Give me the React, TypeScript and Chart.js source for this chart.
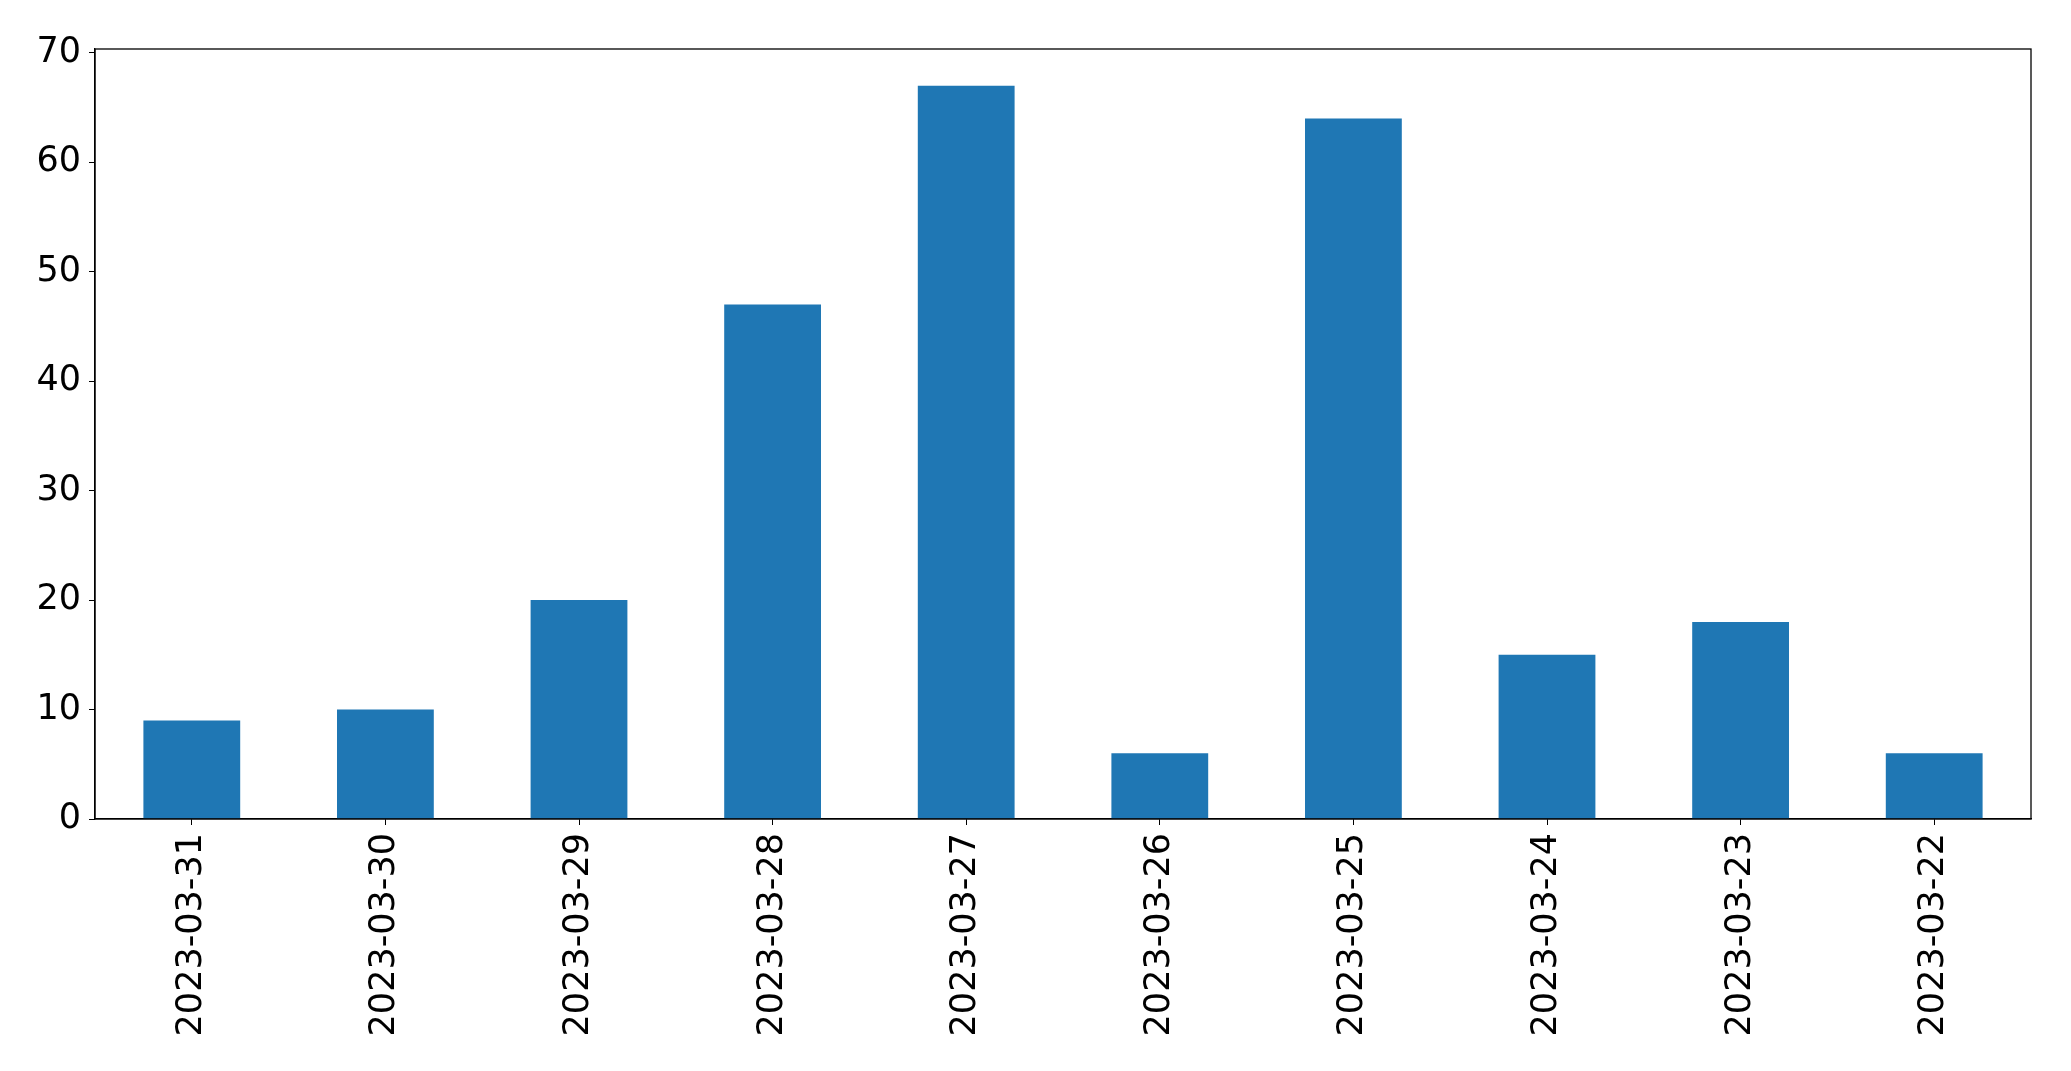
import React, { useEffect, useRef } from "react";
import { Chart, registerables } from "chart.js";

Chart.register(...registerables);

const categories = [
  "2023-03-31",
  "2023-03-30",
  "2023-03-29",
  "2023-03-28",
  "2023-03-27",
  "2023-03-26",
  "2023-03-25",
  "2023-03-24",
  "2023-03-23",
  "2023-03-22",
];
const counts = [9, 10, 20, 47, 67, 6, 64, 15, 18, 6];
const yTicks = [0, 10, 20, 30, 40, 50, 60, 70];
const yMax = 70.35;

const FONT = "'DejaVu Sans', sans-serif";

const frame = {
  id: "frame",
  afterDraw(chart: any) {
    const { ctx, chartArea } = chart;
    ctx.save();
    ctx.strokeStyle = "#000";
    ctx.lineWidth = 1.3;
    ctx.strokeRect(chartArea.left, chartArea.top, chartArea.right - chartArea.left, chartArea.bottom - chartArea.top);
    ctx.restore();
  },
};

export default function App() {
  const ref = useRef<HTMLCanvasElement>(null);
  useEffect(() => {
    const chart = new Chart(ref.current!, {
      type: "bar",
      data: {
        labels: categories,
        datasets: [
          {
            data: counts,
            backgroundColor: "#1f77b4",
            barPercentage: 0.5,
            categoryPercentage: 1,
          },
        ],
      },
      options: {
        animation: false,
        responsive: false,
        maintainAspectRatio: false,
        layout: { padding: { top: 49, right: 40, left: 0, bottom: 0 } },
        plugins: { legend: { display: false }, tooltip: { enabled: false } },
        scales: {
          x: {
            offset: true,
            grid: { display: true, drawOnChartArea: false, drawTicks: true, tickLength: 6, color: "#000", offset: false },
            border: { display: true, color: "#000", width: 1.3 },
            ticks: {
              color: "#000",
              font: { family: FONT, size: 35 },
              maxRotation: 90,
              minRotation: 90,
              padding: 8,
              autoSkip: false,
            },
            afterFit(scale: any) {
              scale.height = 252;
            },
          },
          y: {
            min: 0,
            max: yMax,
            grid: { display: true, drawOnChartArea: false, drawTicks: true, tickLength: 6, color: "#000" },
            border: { display: true, color: "#000", width: 1.3 },
            ticks: {
              color: "#000",
              font: { family: FONT, size: 35 },
              padding: 8,
            },
            afterBuildTicks(scale: any) {
              scale.ticks = yTicks.map((v) => ({ value: v }));
            },
            afterFit(scale: any) {
              scale.width = 95;
            },
          },
        },
      },
      plugins: [frame],
    });
    return () => chart.destroy();
  }, []);
  return (
    <div style={{ position: "fixed", left: 0, top: 0, width: 2071, height: 1071, background: "#fff" }}>
      <canvas ref={ref} width={2071} height={1071} style={{ width: 2071, height: 1071, display: "block" }} />
    </div>
  );
}
